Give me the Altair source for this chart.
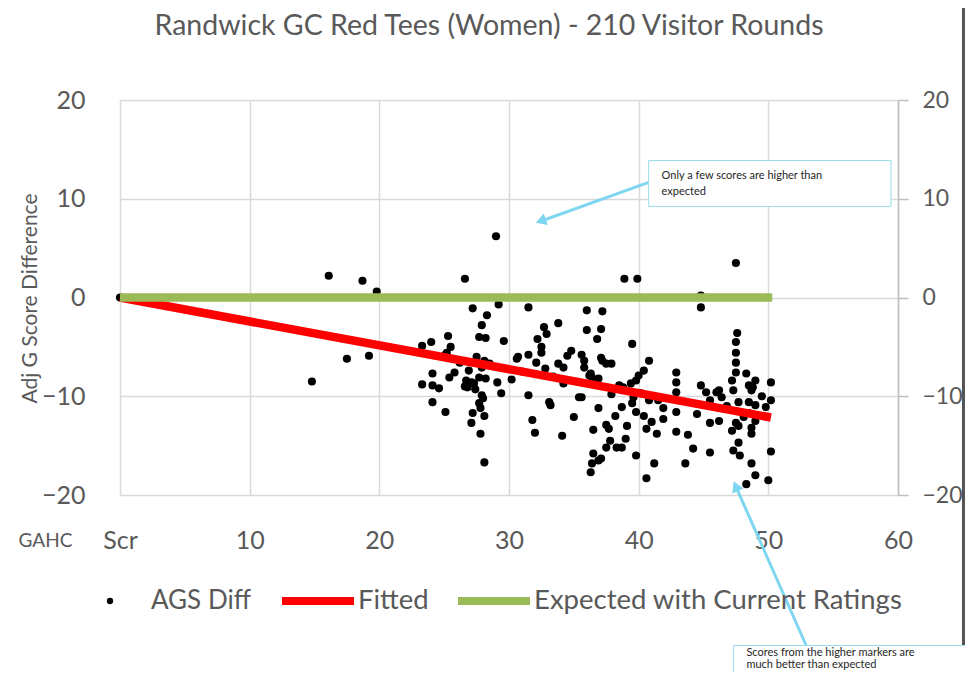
import altair as alt
import pandas as pd

# ---------------- data ----------------
ags_x = [0, 14.8, 16.1, 17.5, 18.7, 19.2, 19.8, 29.0, 26.6, 27.2, 29.2, 31.5, 28.3, 33.8, 27.9, 32.7, 32.9,
         27.7, 28.2, 25.3, 24.0, 23.3, 29.6, 32.2, 32.5, 32.5, 25.5, 25.1, 27.5, 30.7, 31.5, 32.1, 34.8,
         34.5, 33.8, 34.2, 28.2, 27.9, 32.8, 24.1, 25.8, 25.4, 26.9, 23.3, 24.1, 24.6, 26.7, 27.1, 26.8,
         27.3, 27.7, 28.2, 29.1, 29.4, 27.9, 27.7, 27.8, 24.1, 25.1, 27.2, 27.1, 28.1, 27.8, 28.1, 31.5,
         31.8, 32.0, 33.1, 33.2, 34.1, 35.4, 34.2, 47.5, 38.9, 39.9, 44.8, 44.8, 36.0, 37.2, 36.0, 37.1,
         36.8, 39.5, 47.6, 47.5, 47.5, 47.5, 47.5, 47.2, 35.6, 35.8, 37.1, 37.5, 37.9, 37.2, 35.8, 36.3,
         36.4, 36.9, 40.8, 40.4, 40.0, 39.8, 39.4, 38.5, 38.8, 42.9, 42.9, 42.9, 44.8, 45.2, 46.0, 46.4,
         45.5, 48.3, 49.0, 48.5, 48.7, 50.2, 47.3, 47.7, 48.5, 49.0, 49.8, 35.6, 36.9, 38.2, 38.7, 39.5,
         39.8, 40.4, 39.6, 40.2, 40.8, 41.5, 41.9, 41.9, 42.9, 42.9, 36.5, 37.5, 37.7, 37.8, 37.5, 38.3,
         38.7, 39.0, 36.5, 37.1, 36.4, 36.3, 39.8, 40.6, 41.4, 41.2, 40.6, 43.6, 44.2, 45.5, 45.5, 46.2,
         47.5, 47.2, 48.7, 48.7, 49.0, 47.7, 47.3, 47.8, 48.7, 49.0, 48.3, 50.0, 50.2, 50.2, 25.2, 28.1,
         28.5, 30.6, 26.6, 36.2, 36.9, 48.5, 47.7, 46.2, 48.8, 27.4, 26.2, 28.0, 33.4, 35.0, 39.1, 41.0,
         44.5, 46.8, 48.1, 49.5, 30.2, 31.0, 37.9, 43.8]
ags_y = [0, -8.5, 2.2, -6.2, 1.7, -5.9, 0.6, 6.2, 1.9, -1.1, -0.7, -1.0, -1.8, -2.6, -2.8, -3.0, -3.7,
         -4.0, -4.1, -3.9, -4.5, -4.9, -4.4, -4.2, -5.0, -5.6, -5.0, -5.8, -6.0, -6.0, -5.8, -6.6, -5.4,
         -5.9, -6.7, -7.1, -6.7, -7.1, -7.2, -7.7, -7.6, -8.1, -7.4, -8.8, -8.9, -9.2, -8.4, -8.6, -9.1,
         -8.7, -8.1, -8.2, -8.6, -9.7, -9.9, -10.7, -11.2, -10.6, -11.6, -11.7, -12.7, -12.0, -13.8, -16.7, -9.9,
         -12.4, -13.7, -10.6, -10.9, -14.0, -10.1, -8.7, 3.5, 1.9, 1.9, 0.2, -1.0, -1.3, -1.4, -3.3, -3.2,
         -4.2, -4.7, -3.6, -4.5, -5.6, -6.6, -7.6, -8.4, -5.8, -6.4, -6.1, -6.7, -6.7, -6.4, -7.1, -7.7,
         -8.1, -8.2, -6.4, -7.4, -7.9, -8.4, -8.7, -8.9, -9.1, -7.6, -8.6, -9.6, -8.9, -9.6, -9.6, -10.1,
         -10.4, -7.7, -8.4, -8.9, -9.4, -8.6, -9.4, -10.6, -10.6, -10.9, -11.1, -10.1, -11.2, -12.0, -11.1, -10.7,
         -11.6, -12.0, -10.1, -9.7, -10.4, -10.4, -11.2, -12.3, -11.6, -13.6, -13.4, -12.9, -13.3, -14.5, -15.2, -15.2,
         -15.2, -14.3, -15.8, -16.3, -16.8, -17.7, -16.0, -13.3, -13.8, -16.8, -18.3, -16.8, -15.3, -15.7, -12.7, -12.5,
         -12.7, -13.5, -13.2, -13.8, -12.5, -14.7, -15.5, -16.0, -16.8, -18.0, -18.9, -18.5, -15.6, -10.4, -5.6, -6.4,
         -6.7, -6.2, -9.0, -7.9, -16.5, -11.7, -13.0, -9.4, -9.1, -9.3, -6.6, -10.2, -8.0, -12.1, -13.0, -12.6,
         -11.8, -11.0, -12.1, -10.0, -8.3, -7.5, -9.8, -13.9]

fit_x = [0, 50.2]
fit_y = [0, -12.15]
exp_x = [0, 50.3]
exp_y = [0, 0]

x_ticks = [0, 10, 20, 30, 40, 50, 60]
y_ticks = [-20, -10, 0, 10, 20]

title_text = "Randwick GC Red Tees (Women) - 210 Visitor Rounds"
note1_lines = ["Only a few scores are  higher than", "expected"]
note2_lines = ["Scores from the higher markers are", "much better than expected"]

# ---------------- styling ----------------
FONT = "Lato"
TXT = "#595959"
GRID = "#D9D9D9"
ARROW = "#7FD6F0"

xsc = alt.Scale(domain=[0, 60], nice=False, zero=False)
ysc = alt.Scale(domain=[-20, 20], nice=False, zero=False)

xaxis = alt.Axis(values=x_ticks, grid=True, gridColor=GRID, gridWidth=1.5, domain=False, ticks=False,
                 labelExpr="datum.value == 0 ? 'Scr' : datum.label", labelFont=FONT,
                 labelFontSize=25, labelColor=TXT, labelBaseline="middle", labelPadding=45,
                 labelFlush=False,
                 title="GAHC", titleFont=FONT, titleFontSize=19, titleFontWeight="normal",
                 titleColor=TXT, titleX=-75, titleY=45, titleAlign="center", titleBaseline="middle")

yaxis_left = alt.Axis(values=y_ticks, grid=True, gridColor=GRID, gridWidth=1.5, domain=False, ticks=False,
                      labelFont=FONT, labelFontSize=25, labelColor=TXT, labelPadding=35,
                      labelFlush=False,
                      title="Adj G Score Difference", titleFont=FONT, titleFontSize=21,
                      titleFontWeight="normal", titleColor=TXT, titleX=-90, titleY=198,
                      titleAlign="center", titleBaseline="middle")

yaxis_right = alt.Axis(orient="right", values=y_ticks, grid=False, domain=True, domainColor="#BFBFBF",
                       domainWidth=1.5, ticks=True, tickColor="#BFBFBF", tickWidth=1.5, tickSize=10,
                       labelFlush=False, labelFont=FONT, labelFontSize=23, labelColor=TXT,
                       labelPadding=14, title=None)


def X(field):
    return alt.X(field, type="quantitative", scale=xsc, axis=xaxis)


def Y(field, axis=yaxis_left):
    return alt.Y(field, type="quantitative", scale=ysc, axis=axis)


# ---------------- tables ----------------
pts = pd.DataFrame({"gahc": ags_x, "diff": ags_y, "series": "AGS Diff"})
lines_df = pd.DataFrame({
    "gahc": fit_x + exp_x,
    "diff": fit_y + exp_y,
    "series": ["Fitted"] * len(fit_x) + ["Expected with Current Ratings"] * len(exp_x),
})

points = alt.Chart(pts).mark_circle(size=66, opacity=1).encode(
    x=X("gahc"), y=Y("diff"),
    color=alt.Color("series:N", scale=alt.Scale(domain=["AGS Diff"], range=["#000000"]),
                    legend=alt.Legend(title=None, orient="none", legendX=-23, legendY=488,
                                      symbolType="circle", symbolSize=40, labelOffset=28,
                                      labelLimit=600, labelFont=FONT, labelFontSize=26,
                                      labelColor=TXT)),
)

lines = alt.Chart(lines_df).mark_line(strokeWidth=8.5, strokeCap="butt").encode(
    x=X("gahc"), y=Y("diff", yaxis_right),
    color=alt.Color("series:N",
                    scale=alt.Scale(domain=["Fitted", "Expected with Current Ratings"],
                                    range=["#FF0000", "#9BBB59"]),
                    sort=["Fitted", "Expected with Current Ratings"],
                    legend=alt.Legend(title=None, orient="none", legendX=158, legendY=461,
                                      direction="horizontal", symbolType="stroke",
                                      symbolSize=5184, symbolStrokeWidth=8, labelOffset=0,
                                      columnPadding=13, labelLimit=600, labelFont=FONT,
                                      labelFontSize=27.5, labelColor=TXT)),
)

# ---------------- annotations (data coordinates) ----------------
title_df = pd.DataFrame({"x": [28.46], "y": [27.54], "t": [title_text]})
title = alt.Chart(title_df).mark_text(align="center", baseline="middle", font=FONT, fontSize=28.5,
                                      color=TXT).encode(x=X("x"), y=Y("y"), text="t:N")

frame_df = pd.DataFrame({"x": [65.05], "y": [30.1], "y2": [-37.4]})
frame = alt.Chart(frame_df).mark_rule(color="#555555", strokeWidth=3).encode(
    x=X("x"), y=Y("y"), y2="y2:Q")

boxes_df = pd.DataFrame({"x": [40.77, 47.31], "x2": [59.46, 66.0],
                         "y": [13.87, -35.24], "y2": [9.22, -41.0]})
boxes = alt.Chart(boxes_df).mark_rect(fill="white", stroke="#9ADCEB", strokeWidth=1).encode(
    x=X("x"), x2="x2:Q", y=Y("y"), y2="y2:Q")

notes_df = pd.DataFrame({
    "x": [41.77, 41.77, 48.31, 48.31],
    "y": [12.35, 10.73, -36.05, -37.2],
    "t": note1_lines + note2_lines,
})
notes = alt.Chart(notes_df).mark_text(align="left", baseline="middle", font=FONT, fontSize=11,
                                      color="#262626").encode(x=X("x"), y=Y("y"), text="t:N")

arrows_df = pd.DataFrame({"x": [40.77, 52.92], "y": [11.65, -35.24],
                          "x2": [32.6, 47.55], "y2": [7.8, -19.3]})
arrows = alt.Chart(arrows_df).mark_rule(color=ARROW, strokeWidth=3).encode(
    x=X("x"), x2="x2:Q", y=Y("y"), y2="y2:Q")

heads_df = pd.DataFrame({"x": [32.45, 47.49], "y": [7.75, -19.1], "ang": [251, 336]})
heads = alt.Chart(heads_df).mark_point(shape="triangle-up", filled=True, size=150, opacity=1,
                                       color=ARROW).encode(
    x=X("x"), y=Y("y"), angle=alt.Angle("ang:Q", scale=None))

main = alt.layer(points, title, frame, arrows, heads, boxes, notes)

chart = alt.layer(main, lines).resolve_scale(
    y="independent", color="independent"
).properties(
    width=778, height=395,
    autosize=alt.AutoSizeParams(type="none"),
    padding={"left": 112, "top": 92, "right": 67, "bottom": 177},
).configure(background="white").configure_view(stroke=None)

chart.save("out.html", embed_options={"renderer": "svg", "actions": False})
